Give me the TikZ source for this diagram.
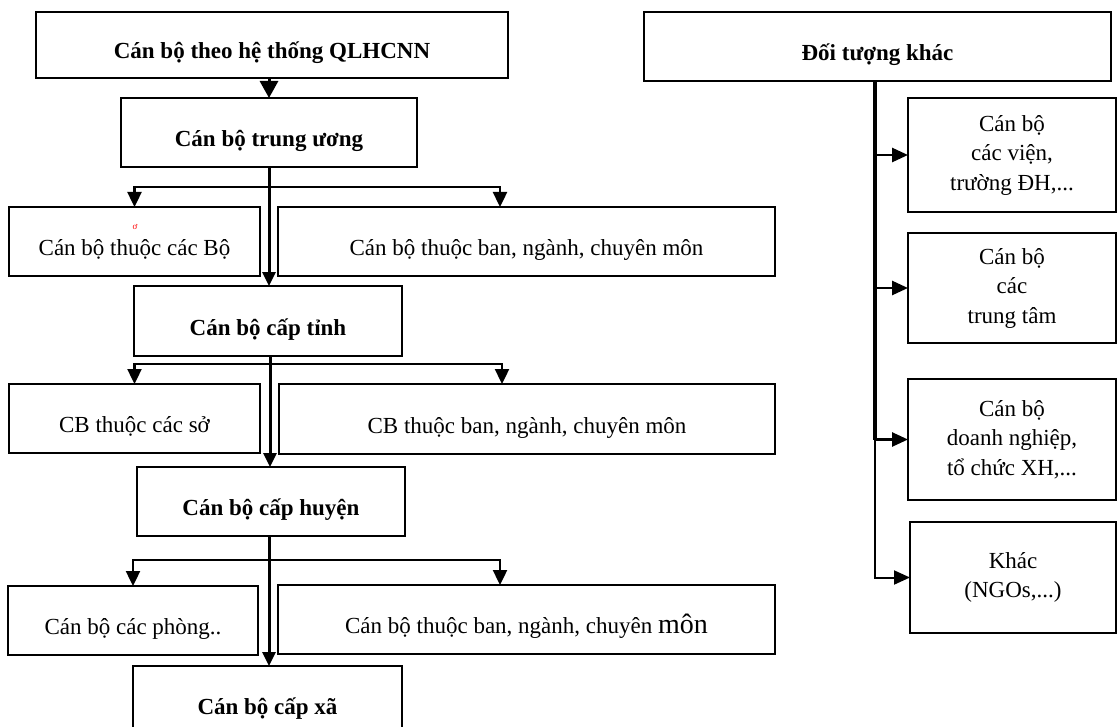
\documentclass[tikz,border=0pt]{standalone}
\usepackage{fontspec}
\setmainfont{Liberation Serif}
\usetikzlibrary{arrows.meta,calc}
\begin{document}
\begin{tikzpicture}[x=1pt,y=-1pt,
 box/.style={draw,line width=2pt,inner sep=0pt,outer sep=0pt,font=\fontsize{23}{29.5}\selectfont,text height=28pt,text depth=0pt},
 hbox/.style={box,font=\fontsize{23}{29.5}\selectfont\bfseries},
 mbox/.style={draw,line width=2pt,inner sep=0pt,outer sep=0pt,align=center,font=\fontsize{23}{29.5}\selectfont},
 bigar/.style={line width=3pt,-{Triangle[length=17pt,width=18pt]}},
 mainar/.style={line width=3pt,-{Triangle[length=14pt,width=13pt]}},
 brar/.style={line width=2.4pt,-{Triangle[length=15pt,width=14pt]}},
 rar/.style={line width=2.6pt,-{Triangle[length=16pt,width=14pt]}},
 rarthin/.style={line width=2pt,-{Triangle[length=16pt,width=14pt]}},
 spine/.style={line width=3.2pt}
]
\useasboundingbox (0,0) rectangle (1118,727);
% left column
\node[hbox,minimum width=472pt,minimum height=66pt] (top) at (272,45) {Cán bộ theo hệ thống QLHCNN};
\node[hbox,minimum width=296pt,minimum height=69pt] (cent) at (269,132.5) {Cán bộ trung ương};
\node[box,minimum width=251pt,minimum height=69pt] (bo) at (134.5,241.5) {Cán bộ thuộc các Bộ};
\node[box,minimum width=497pt,minimum height=69pt] (ban1) at (526.5,241.5) {Cán bộ thuộc ban, ngành, chuyên môn};
\node[text=red,font=\fontsize{9}{10}\selectfont,inner sep=0pt] (redmark) at (135,227) {ơ};
\node[hbox,minimum width=268pt,minimum height=70pt] (tinh) at (268,321) {Cán bộ cấp tỉnh};
\node[box,minimum width=251pt,minimum height=69pt] (so) at (134.5,418.5) {CB thuộc các sở};
\node[box,minimum width=496pt,minimum height=70pt] (ban2) at (527,419) {CB thuộc ban, ngành, chuyên môn};
\node[hbox,minimum width=268pt,minimum height=69pt] (huyen) at (271,501.5) {Cán bộ cấp huyện};
\node[box,minimum width=250pt,minimum height=69pt] (phong) at (133,620.5) {Cán bộ các phòng..};
\node[box,minimum width=497pt,minimum height=69pt] (ban3) at (526.5,619.5) {Cán bộ thuộc ban, ngành, chuyên {\fontsize{28}{30}\selectfont môn}};
\node[hbox,minimum width=269pt,minimum height=69pt] (xa) at (267.5,700.5) {Cán bộ cấp xã};
% right column
\node[hbox,minimum width=467pt,minimum height=69pt] (dt) at (877.5,46.5) {Đối tượng khác};
\node[mbox,minimum width=208pt,minimum height=114pt] (r1) at (1012,155) {Cán bộ\\ các viện,\\ trường ĐH,...};
\node[mbox,minimum width=208pt,minimum height=110pt] (r2) at (1012,288) {Cán bộ\\ các\\ trung tâm};
\node[mbox,minimum width=208pt,minimum height=121pt] (r3) at (1012,439.5) {Cán bộ\\ doanh nghiệp,\\ tổ chức XH,...};
\node[mbox,minimum width=206pt,minimum height=111pt] (r4) at (1013,577.5) {Khác\\ (NGOs,...)};
% left connectors
\draw[bigar] (cent.north |- top.south) -- (cent.north);
\coordinate (j1) at ($(cent.south)+(0,20)$);
\draw[mainar] (cent.south) -- (cent.south |- tinh.north);
\draw[brar] (j1) -| (bo.north);
\draw[brar] (j1) -| ($(ban1.north west)+(222,0)$);
\coordinate (s2) at ($(tinh.south)+(2,0)$);
\coordinate (j2) at ($(s2)+(0,8)$);
\draw[mainar] (s2) -- (s2 |- huyen.north);
\draw[brar] (j2) -| (bo.north |- so.north);
\draw[brar] (j2) -| ($(ban2.north west)+(223,0)$);
\coordinate (s3) at ($(huyen.south)+(-2,0)$);
\coordinate (j3) at ($(s3)+(0,24)$);
\draw[mainar] (s3) -- (s3 |- xa.north);
\draw[brar] (j3) -| (phong.north);
\draw[brar] (j3) -| ($(ban3.north west)+(222,0)$);
% right connectors
\coordinate (sp) at ($(dt.south)+(-2.5,0)$);
\draw[spine] (sp) -- (sp |- r3.west);
\draw[rar] (sp |- r1.west) -- (r1.west);
\draw[rar] (sp |- r2.west) -- (r2.west);
\draw[rar] (sp |- r3.west) -- (r3.west);
\draw[rarthin] ($(sp |- r3.west)+(0,-1)$) |- (r4.west);
\end{tikzpicture}
\end{document}
